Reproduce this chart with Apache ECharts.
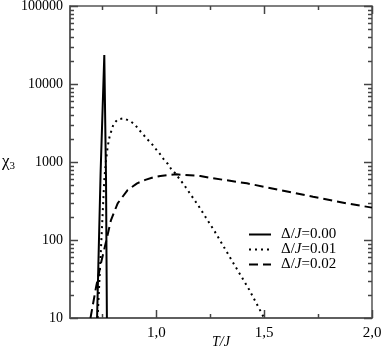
<!DOCTYPE html>
<html>
<head>
<meta charset="utf-8">
<script src="https://cdn.jsdelivr.net/npm/echarts@6/dist/echarts.min.js"></script>
<style>
  html, body { margin: 0; padding: 0; background: #fff; }
  #chart { width: 382px; height: 353px; }
</style>
</head>
<body>
<div id="chart"></div>
<script>
  // Δ/J = 0.00 (solid)
  var solidT   = [0.7255, 0.742, 0.759, 0.767, 0.771];
  var solidChi = [10, 750, 23500, 600, 10];

  // Δ/J = 0.01 (dotted)
  var dotT   = [0.728, 0.759, 0.766, 0.775, 0.784, 0.802, 0.821, 0.849, 0.876, 0.900, 0.918, 0.938, 0.957, 0.977, 0.995,
                1.015, 1.034, 1.054, 1.069, 1.091, 1.111, 1.126, 1.196, 1.276, 1.353, 1.431, 1.500];
  var dotChi = [10, 590, 1000, 1600, 2150, 3070, 3520, 3630, 3380, 3040, 2620, 2280, 1970, 1740, 1500,
                1290, 1090, 942, 812, 701, 588, 522, 273, 122, 53, 23, 10];

  // Δ/J = 0.02 (dashed)
  var dashT   = [0.695, 0.721, 0.744, 0.767, 0.790, 0.821, 0.867, 0.911, 0.949, 0.988, 1.019, 1.056, 1.093,
                 1.134, 1.204, 1.264, 1.420, 1.574, 1.727, 1.883, 2.0];
  var dashChi = [10, 25, 51, 95, 180, 295, 437, 533, 590, 637, 662, 681, 695,
                 681, 662, 618, 533, 437, 359, 295, 260];

  var names = ['Δ/J=0.00', 'Δ/J=0.01', 'Δ/J=0.02'];

  var xMajor = [1.0, 1.5, 2.0];
  var xMinor = [0.75, 1.25, 1.75];
  var yMajor = [10, 100, 1000, 10000, 100000];

  var yMinor = [];
  for (var d = 10; d < 100000; d *= 10) {
    for (var k = 2; k <= 9; k++) yMinor.push(k * d);
  }

  function pairs(xs, ys) {
    var out = [];
    for (var i = 0; i < xs.length; i++) out.push([xs[i], ys[i]]);
    return out;
  }

  var serif = '"Liberation Serif", "DejaVu Serif", serif';
  var axisCol = '#555';
  var tickCol = '#444';

  // inside ticks on all four sides: [side, value, length], 0 = x ticks, 1 = y ticks
  var tickData = [];
  xMajor.forEach(function (v) { tickData.push([0, v, 8]); });
  xMinor.forEach(function (v) { tickData.push([0, v, 4]); });
  yMajor.forEach(function (v) { tickData.push([1, v, 8]); });
  yMinor.forEach(function (v) { tickData.push([1, v, 4]); });

  function renderTick(params, api) {
    var side = api.value(0);
    var v = api.value(1);
    var len = api.value(2);
    var st = { stroke: tickCol, lineWidth: 1.5 };
    if (side === 0) {
      var b = api.coord([v, 10]);
      var t = api.coord([v, 100000]);
      var bx = Math.round(b[0]) + 0.5;
      return {
        type: 'group', children: [
          { type: 'line', shape: { x1: bx, y1: b[1], x2: bx, y2: b[1] - len }, style: st },
          { type: 'line', shape: { x1: bx, y1: t[1], x2: bx, y2: t[1] + len }, style: st }
        ]
      };
    }
    var l = api.coord([0.6, v]);
    var r = api.coord([2.0, v]);
    var ly = Math.round(l[1]) + 0.5;
    return {
      type: 'group', children: [
        { type: 'line', shape: { x1: l[0], y1: ly, x2: l[0] + len, y2: ly }, style: st },
        { type: 'line', shape: { x1: r[0], y1: ly, x2: r[0] - len, y2: ly }, style: st }
      ]
    };
  }

  var chart = echarts.init(document.getElementById('chart'));

  var option = {
    animation: false,
    backgroundColor: '#fff',
    grid: {
      left: 70, right: 10, top: 6, bottom: 35,
      containLabel: false, outerBoundsMode: 'none',
      show: true, borderColor: axisCol, borderWidth: 1.5, backgroundColor: 'transparent'
    },
    legend: {
      orient: 'vertical',
      left: 248, top: 227, padding: 0,
      itemWidth: 22, itemHeight: 12, itemGap: 0,
      itemStyle: { opacity: 0 },
      data: names,
      formatter: function (name) {
        var p = name.split('J');
        return '{n|' + p[0] + '}{i|J}{n|' + p[1] + '}';
      },
      textStyle: {
        padding: [0, 0, 0, 5],
        rich: {
          n: { fontFamily: serif, fontSize: 15, color: '#000' },
          i: { fontFamily: serif, fontSize: 15, fontStyle: 'italic', color: '#000' }
        }
      }
    },
    xAxis: {
      type: 'value', min: 0.6, max: 2.0, position: 'bottom',
      axisLine: { show: true, onZero: false, lineStyle: { color: axisCol, width: 1.5 } },
      axisTick: { show: false },
      axisLabel: {
        customValues: xMajor, margin: 8, color: '#000',
        fontFamily: serif, fontSize: 15,
        formatter: function (v) { return v.toFixed(1).replace('.', ','); }
      },
      splitLine: { show: false },
      name: 'T/J',
      nameLocation: 'middle',
      nameGap: 17,
      nameMoveOverlap: false,
      nameTextStyle: { fontFamily: serif, fontSize: 14, fontStyle: 'italic', color: '#000' }
    },
    yAxis: {
      type: 'log', logBase: 10, min: 10, max: 100000, position: 'left',
      axisLine: { show: true, lineStyle: { color: axisCol, width: 1.5 } },
      axisTick: { show: false },
      axisLabel: {
        customValues: yMajor, margin: 7, color: '#000',
        fontFamily: serif, fontSize: 14,
        formatter: function (v) { return String(Math.round(v)); }
      },
      splitLine: { show: false },
      minorTick: { show: false },
      name: '{a|χ}{b|3}',
      nameLocation: 'middle',
      nameRotate: 0,
      nameGap: 55,
      nameMoveOverlap: false,
      nameTextStyle: {
        rich: {
          a: { fontFamily: serif, fontSize: 17, color: '#000' },
          b: { fontFamily: serif, fontSize: 11, color: '#000', padding: [8, 0, 0, 0] }
        }
      }
    },
    series: [
      {
        type: 'custom', silent: true, clip: false, z: 1,
        renderItem: renderTick,
        data: tickData
      },
      {
        name: names[0], type: 'line', showSymbol: false, symbol: 'none', z: 3,
        lineStyle: { color: '#000', width: 2, type: 'solid' },
        itemStyle: { color: '#000' },
        data: pairs(solidT, solidChi)
      },
      {
        name: names[1], type: 'line', showSymbol: false, symbol: 'none', z: 3,
        lineStyle: { color: '#000', width: 2, type: [2, 4] },
        itemStyle: { color: '#000' },
        data: pairs(dotT, dotChi)
      },
      {
        name: names[2], type: 'line', showSymbol: false, symbol: 'none', z: 3,
        lineStyle: { color: '#000', width: 2, type: [9, 5] },
        itemStyle: { color: '#000' },
        data: pairs(dashT, dashChi)
      }
    ]
  };

  chart.setOption(option);
  window.addEventListener('resize', function () {
    chart.resize();
  });
</script>
</body>
</html>
